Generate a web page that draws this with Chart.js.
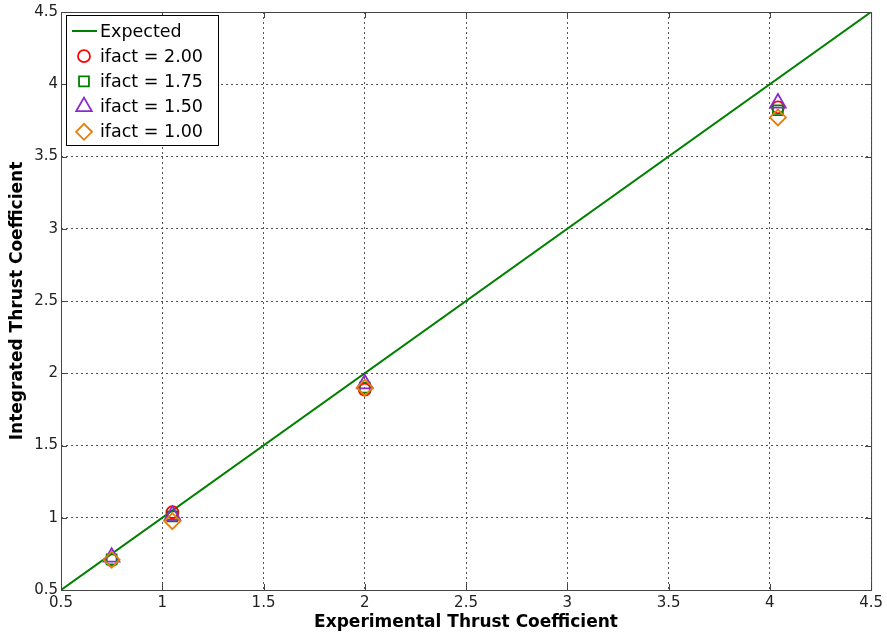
<!DOCTYPE html>
<html lang="en">
<head>
    <meta charset="UTF-8">
    <title>Integrated vs Experimental Thrust Coefficient</title>
    <script src="https://cdn.jsdelivr.net/npm/chart.js"></script>
    <style>
        html, body { margin: 0; padding: 0; background: #fff; }
        #wrap { width: 887px; height: 637px; }
    </style>
</head>
<body>
<div id="wrap"><canvas id="thrustChart"></canvas></div>
<script>
    // data
    const expectedX = [0.5, 4.5];
    const expectedY = [0.5, 4.5];
    const experimental = [0.75, 1.05, 2.0, 4.04];
    const ifact200 = [0.707, 1.038, 1.886, 3.84];
    const ifact175 = [0.712, 1.01, 1.90, 3.82];
    const ifact150 = [0.727, 1.017, 1.927, 3.87];
    const ifact100 = [0.71, 0.976, 1.90, 3.77];
    const axisTicks = [0.5, 1, 1.5, 2, 2.5, 3, 3.5, 4, 4.5];

    const pts = (xs, ys) => xs.map((x, i) => ({x: x, y: ys[i]}));

    // legend drawn inside the axes, like the MATLAB one
    const insideLegend = {
        id: 'insideLegend',
        afterDraw(chart) {
            const ctx = chart.ctx;
            const a = chart.chartArea;
            ctx.save();
            // axes box
            ctx.strokeStyle = '#444';
            ctx.lineWidth = 1;
            ctx.strokeRect(a.left + 0.5, a.top + 0.5, a.right - a.left, a.bottom - a.top);
            // inward tick marks on all four sides
            ctx.beginPath();
            chart.scales.x.ticks.forEach(t => {
                const px = Math.round(chart.scales.x.getPixelForValue(t.value)) + 0.5;
                ctx.moveTo(px, a.bottom); ctx.lineTo(px, a.bottom - 6);
                ctx.moveTo(px, a.top); ctx.lineTo(px, a.top + 6);
            });
            chart.scales.y.ticks.forEach(t => {
                const py = Math.round(chart.scales.y.getPixelForValue(t.value)) + 0.5;
                ctx.moveTo(a.left, py); ctx.lineTo(a.left + 6, py);
                ctx.moveTo(a.right, py); ctx.lineTo(a.right - 6, py);
            });
            ctx.stroke();

            // legend box
            const bx = 66, by = 15, bw = 152, bh = 130;
            ctx.fillStyle = '#fff';
            ctx.fillRect(bx, by, bw, bh);
            ctx.strokeStyle = '#000';
            ctx.strokeRect(bx + 0.5, by + 0.5, bw, bh);

            ctx.font = '17.5px "DejaVu Sans"';
            ctx.textBaseline = 'middle';
            ctx.textAlign = 'left';
            chart.data.datasets.forEach((ds, i) => {
                const y = 31 + i * 25.2;
                if (ds.legendLine) {
                    ctx.strokeStyle = ds.borderColor;
                    ctx.lineWidth = 2;
                    ctx.beginPath();
                    ctx.moveTo(72, y); ctx.lineTo(97, y);
                    ctx.stroke();
                } else {
                    ctx.strokeStyle = ds.borderColor;
                    ctx.fillStyle = 'rgba(0,0,0,0)';
                    ctx.lineWidth = ds.borderWidth;
                    Chart.helpers.drawPoint(ctx, {
                        pointStyle: ds.pointStyle,
                        radius: ds.pointRadius,
                        borderWidth: ds.borderWidth,
                        rotation: 0
                    }, 84, y);
                }
                ctx.fillStyle = '#000';
                ctx.fillText(ds.label, 100, y + 1);
            });
            ctx.restore();
        }
    };

    const markerSet = (label, ys, color, style, radius, order) => ({
        label: label,
        data: pts(experimental, ys),
        pointStyle: style,
        pointRadius: radius,
        pointHoverRadius: radius,
        borderColor: color,
        pointBorderColor: color,
        backgroundColor: 'rgba(0,0,0,0)',
        pointBackgroundColor: 'rgba(0,0,0,0)',
        borderWidth: 1.8,
        pointBorderWidth: 1.8,
        showLine: false,
        order: order
    });

    const tickFont = {family: 'DejaVu Sans', size: 15};
    const titleFont = {family: 'DejaVu Sans', size: 17, weight: 'bold'};
    const plainLabel = v => String(v);

    new Chart(document.getElementById('thrustChart'), {
        type: 'scatter',
        data: {
            datasets: [
                {
                    label: 'Expected',
                    data: pts(expectedX, expectedY),
                    showLine: true,
                    legendLine: true,
                    borderColor: '#008000',
                    borderWidth: 2,
                    pointRadius: 0,
                    order: 5
                },
                markerSet('ifact = 2.00', ifact200, '#ff0000', 'circle', 6, 4),
                markerSet('ifact = 1.75', ifact175, '#008000', 'rect', 7, 3),
                markerSet('ifact = 1.50', ifact150, '#8a2bd0', 'triangle', 9, 2),
                markerSet('ifact = 1.00', ifact100, '#e67e0a', 'rectRot', 8, 1)
            ]
        },
        options: {
            responsive: true,
            maintainAspectRatio: false,
            animation: false,
            layout: {padding: {top: 10, right: 14, left: 0, bottom: 0}},
            plugins: {
                legend: {display: false},
                tooltip: {enabled: false}
            },
            scales: {
                x: {
                    type: 'linear',
                    min: 0.5,
                    max: 4.5,
                    afterBuildTicks: s => { s.ticks = axisTicks.map(v => ({value: v})); },
                    afterFit: s => { s.height = 47; },
                    ticks: {font: tickFont, color: '#222', padding: 4, maxRotation: 0, callback: plainLabel},
                    grid: {color: '#555', lineWidth: 1, drawTicks: false},
                    border: {display: false, dash: [2, 3]},
                    title: {display: true, text: 'Experimental Thrust Coefficient', font: titleFont, color: '#000', padding: {top: 0, bottom: 4}}
                },
                y: {
                    type: 'linear',
                    min: 0.5,
                    max: 4.5,
                    afterBuildTicks: s => { s.ticks = axisTicks.map(v => ({value: v})); },
                    afterFit: s => { s.width = 61; },
                    ticks: {font: tickFont, color: '#222', padding: 3, callback: plainLabel},
                    grid: {color: '#555', lineWidth: 1, drawTicks: false},
                    border: {display: false, dash: [2, 3]},
                    title: {display: true, text: 'Integrated Thrust Coefficient', font: titleFont, color: '#000', padding: {top: 7, bottom: 0}}
                }
            }
        },
        plugins: [insideLegend]
    });
</script>
</body>
</html>
